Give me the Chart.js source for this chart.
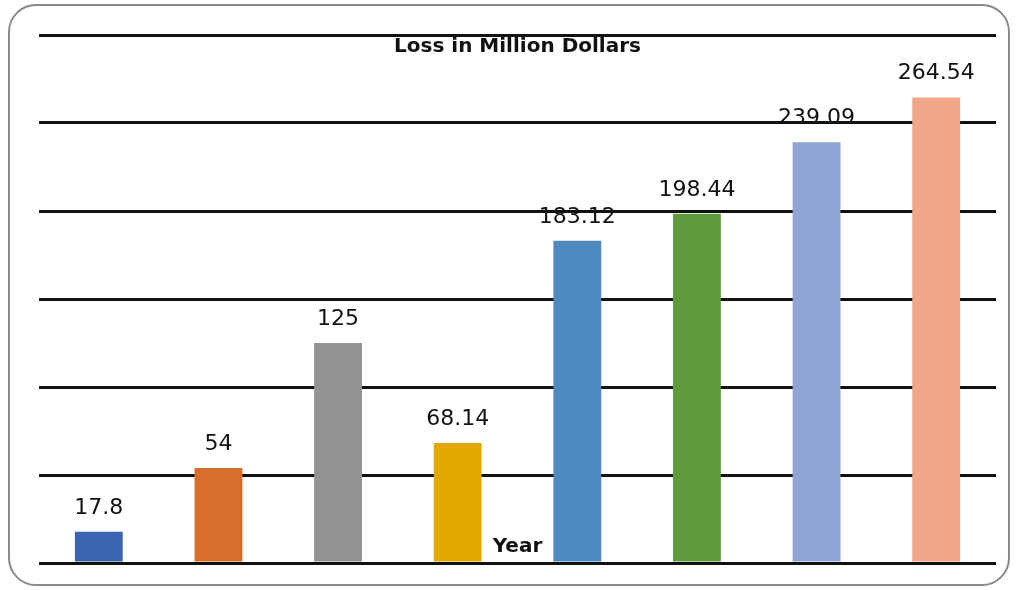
<!DOCTYPE html>
<html>
<head>
<meta charset="utf-8">
<script src="https://cdn.jsdelivr.net/npm/chart.js@4"></script>
<style>
  body { margin: 0; background: #fff; }
  #wrap { position: relative; width: 1016px; height: 590px; }
  #frame {
    position: absolute; left: 8px; top: 4px; width: 1002px; height: 582px;
    border: 2px solid #8a8a8a; border-radius: 28px; box-sizing: border-box;
  }
  canvas { position: absolute; left: 0; top: 0; }
</style>
</head>
<body>
<div id="wrap">
  <div id="frame"></div>
  <canvas id="myChart" width="1016" height="590"></canvas>
</div>
<script>
// data
var categories = ["1", "2", "3", "4", "5", "6", "7", "8"];
var lossValues = [17.8, 54, 125, 68.14, 183.12, 198.44, 239.09, 264.54];
var barColors = ["#3c65b1", "#d56f2b", "#939393", "#e2a900", "#4e8abf", "#5f9a3c", "#8fa4d5", "#f0a789"];
var yTicks = [0, 50, 100, 150, 200, 250, 300];
var chartTitle = "Loss in Million Dollars";
var axisTitle = "Year";

// value labels + texts drawn on the plot
const textPlugin = {
  id: "texts",
  afterDatasetsDraw(chart) {
    const ctx = chart.ctx;
    const area = chart.chartArea;
    const cx = (area.left + area.right) / 2;
    ctx.save();
    ctx.fillStyle = "#111";
    ctx.textAlign = "center";
    ctx.textBaseline = "alphabetic";
    ctx.font = "22px 'DejaVu Sans'";
    chart.getDatasetMeta(0).data.forEach(function (bar, i) {
      ctx.fillText(String(lossValues[i]), bar.x, bar.y - 18);
    });
    ctx.font = "bold 20px 'DejaVu Sans'";
    ctx.fillText(chartTitle, cx, 52);
    ctx.fillText(axisTitle, cx, 552);
    ctx.restore();
  }
};

new Chart("myChart", {
  type: "bar",
  data: {
    labels: categories,
    datasets: [{
      data: lossValues,
      backgroundColor: barColors,
      barPercentage: 0.4,
      categoryPercentage: 1
    }]
  },
  options: {
    responsive: false,
    animation: false,
    layout: { padding: { left: 39, right: 20, top: 35, bottom: 19 } },
    plugins: { legend: { display: false }, tooltip: { enabled: false } },
    scales: {
      x: {
        ticks: { display: false },
        grid: { display: false },
        border: { display: false }
      },
      y: {
        min: 0,
        max: 300,
        afterBuildTicks: function (scale) {
          scale.ticks = yTicks.map(function (v) { return { value: v }; });
        },
        ticks: { display: false },
        grid: { color: "#111", lineWidth: 3, drawTicks: false },
        border: { display: false }
      }
    }
  },
  plugins: [textPlugin]
});
</script>
</body>
</html>
